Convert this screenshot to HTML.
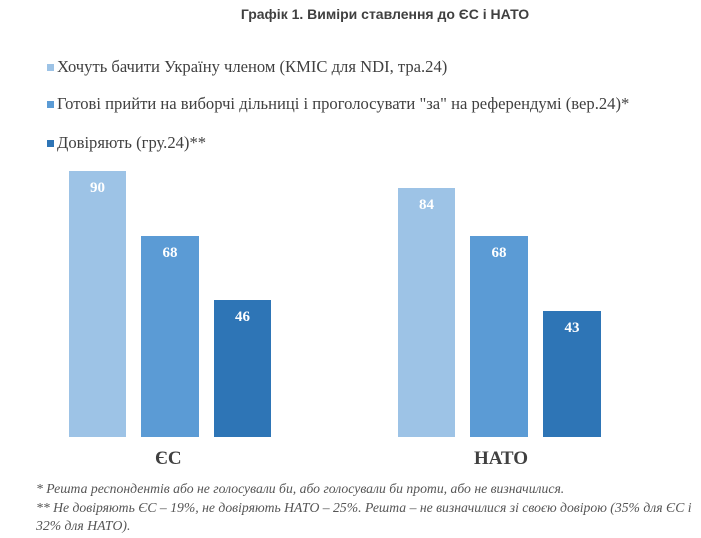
<!DOCTYPE html>
<html><head><meta charset="utf-8"><style>
body{margin:0;width:701px;height:538px;background:#fff;position:relative;overflow:hidden;font-family:"Liberation Serif",serif;color:#404040}
.a{position:absolute;white-space:nowrap}
.t{font-family:"Liberation Sans",sans-serif;font-weight:bold;font-size:14px;color:#404040;left:0;width:770px;text-align:center;top:6px}
.lg{font-size:16.6px;left:57px}
.sq{position:absolute;width:7px;height:7px;left:47px}
.bar{position:absolute;bottom:101px}
.v{position:absolute;width:100%;text-align:center;color:#fff;font-weight:bold;font-size:15px;top:9px}
.c{font-weight:bold;font-size:19px;color:#404040}
.f{font-style:italic;font-size:13.7px;color:#555;left:36px}
</style></head><body>
<div class="a t">Графік 1. Виміри ставлення до ЄС і НАТО</div>
<div class="sq" style="top:64px;background:#9DC3E6"></div><div class="a lg" style="top:57px">Хочуть бачити Україну членом (КМІС для NDI, тра.24)</div>
<div class="sq" style="top:101px;background:#5B9BD5"></div><div class="a lg" style="top:94px">Готові прийти на виборчі дільниці і проголосувати "за" на референдумі (вер.24)*</div>
<div class="sq" style="top:140px;background:#2E75B6"></div><div class="a lg" style="top:133px">Довіряють (гру.24)**</div>

<div class="bar" style="left:69px;width:57px;height:266px;background:#9DC3E6"><div class="v">90</div></div>
<div class="bar" style="left:141px;width:58px;height:201px;background:#5B9BD5"><div class="v">68</div></div>
<div class="bar" style="left:214px;width:57px;height:137px;background:#2E75B6"><div class="v">46</div></div>
<div class="bar" style="left:398px;width:57px;height:249px;background:#9DC3E6"><div class="v">84</div></div>
<div class="bar" style="left:470px;width:58px;height:201px;background:#5B9BD5"><div class="v">68</div></div>
<div class="bar" style="left:543px;width:58px;height:126px;background:#2E75B6"><div class="v">43</div></div>

<div class="a c" style="left:155px;top:448px">ЄС</div>
<div class="a c" style="left:474px;top:448px">НАТО</div>

<div class="a f" style="top:481px">* Решта респондентів або не голосували би, або голосували би проти, або не визначилися.</div>
<div class="a f" style="top:500px">** Не довіряють ЄС – 19%, не довіряють НАТО – 25%. Решта – не визначилися зі своєю довірою (35% для ЄС і</div>
<div class="a f" style="top:518px">32% для НАТО).</div>
</body></html>
